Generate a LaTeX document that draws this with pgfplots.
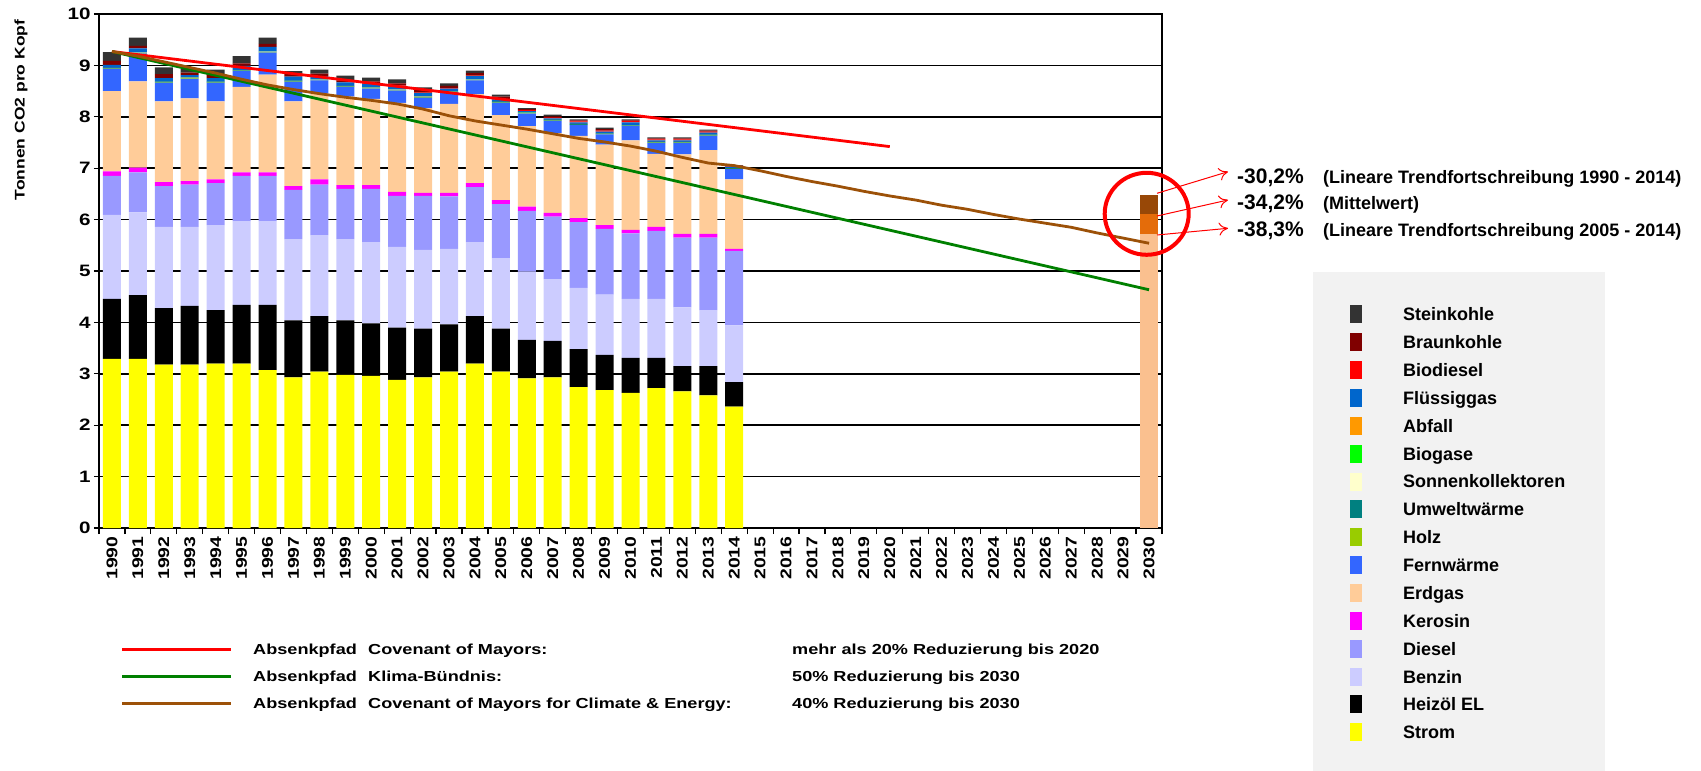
\documentclass[border=0pt]{standalone}
\usepackage{fontspec}
\setmainfont{Liberation Sans}
\newfontfamily\widefont[FakeStretch=1.25]{Liberation Sans}
\usepackage{pgfplots}
\pgfplotsset{compat=1.18}
\usepackage{pgfplotstable}
\usetikzlibrary{arrows.meta}

\definecolor{cStrom}{HTML}{FFFF00}
\definecolor{cHeiz}{HTML}{000000}
\definecolor{cBenz}{HTML}{CCCCFF}
\definecolor{cDies}{HTML}{9999FF}
\definecolor{cKero}{HTML}{FF00FF}
\definecolor{cErdg}{HTML}{FFCC99}
\definecolor{cFern}{HTML}{3366FF}
\definecolor{cHolz}{HTML}{99CC00}
\definecolor{cUmw}{HTML}{008080}
\definecolor{cSonn}{HTML}{FFFFCC}
\definecolor{cBiog}{HTML}{00FF00}
\definecolor{cAbf}{HTML}{FF9900}
\definecolor{cFlue}{HTML}{0066CC}
\definecolor{cBiod}{HTML}{FF0000}
\definecolor{cBraun}{HTML}{800000}
\definecolor{cStein}{HTML}{333333}
\definecolor{cPeach}{HTML}{FAC08F}
\definecolor{cOrange}{HTML}{E46C0A}
\definecolor{cBrownBar}{HTML}{984807}
\definecolor{cLineRed}{HTML}{FF0000}
\definecolor{cLineGreen}{HTML}{008000}
\definecolor{cLineBrown}{HTML}{9C5108}
\definecolor{cLegBg}{HTML}{F2F2F2}

% layer heights per year (index 0 = 1990)
\pgfplotstableread{
i  S    H    B    D    K    E    F    Ho    U    So    Bg    A     Fl   Bd   Br   St
0  3.29 1.17 1.63 0.76 0.09 1.56 0.43 0.005 0.01 0.002 0.002 0.001 0.06 0.00 0.08 0.17
1  3.29 1.24 1.61 0.78 0.09 1.68 0.54 0.005 0.01 0.002 0.002 0.001 0.08 0.00 0.05 0.16
2  3.18 1.10 1.58 0.79 0.08 1.57 0.36 0.005 0.01 0.002 0.002 0.001 0.07 0.00 0.08 0.13
3  3.18 1.14 1.54 0.82 0.07 1.61 0.38 0.005 0.01 0.002 0.002 0.001 0.05 0.00 0.05 0.07
4  3.20 1.04 1.65 0.82 0.07 1.52 0.36 0.005 0.01 0.002 0.002 0.001 0.07 0.00 0.06 0.11
5  3.20 1.14 1.63 0.88 0.07 1.66 0.31 0.005 0.01 0.002 0.002 0.001 0.08 0.00 0.05 0.14
6  3.07 1.27 1.63 0.88 0.07 1.90 0.43 0.005 0.01 0.002 0.002 0.001 0.09 0.00 0.06 0.12
7  2.93 1.11 1.58 0.96 0.07 1.65 0.38 0.005 0.01 0.002 0.002 0.001 0.08 0.00 0.06 0.05
8  3.04 1.08 1.58 0.98 0.10 1.67 0.26 0.005 0.01 0.002 0.002 0.001 0.06 0.00 0.05 0.08
9  2.98 1.06 1.58 0.98 0.07 1.72 0.19 0.005 0.01 0.002 0.002 0.001 0.07 0.00 0.04 0.09
10 2.96 1.02 1.58 1.04 0.07 1.68 0.20 0.005 0.01 0.002 0.002 0.001 0.07 0.01 0.04 0.07
11 2.88 1.02 1.57 0.99 0.08 1.73 0.24 0.005 0.01 0.002 0.002 0.001 0.07 0.01 0.04 0.08
12 2.93 0.95 1.53 1.05 0.06 1.65 0.20 0.005 0.01 0.002 0.002 0.001 0.07 0.01 0.05 0.05
13 3.04 0.92 1.47 1.02 0.07 1.73 0.23 0.005 0.01 0.002 0.002 0.001 0.05 0.01 0.04 0.05
14 3.20 0.92 1.44 1.07 0.08 1.73 0.27 0.005 0.01 0.002 0.002 0.001 0.06 0.01 0.05 0.05
15 3.04 0.84 1.37 1.05 0.08 1.65 0.24 0.005 0.01 0.002 0.002 0.001 0.05 0.01 0.04 0.04
16 2.91 0.75 1.33 1.18 0.08 1.57 0.24 0.005 0.01 0.002 0.002 0.001 0.03 0.02 0.02 0.02
17 2.93 0.71 1.20 1.22 0.07 1.55 0.24 0.005 0.01 0.002 0.002 0.001 0.03 0.02 0.02 0.03
18 2.74 0.74 1.19 1.28 0.08 1.60 0.21 0.005 0.01 0.002 0.002 0.001 0.03 0.02 0.02 0.02
19 2.68 0.69 1.17 1.28 0.07 1.57 0.20 0.005 0.01 0.002 0.002 0.001 0.03 0.02 0.03 0.03
20 2.63 0.68 1.15 1.27 0.07 1.74 0.28 0.005 0.01 0.002 0.002 0.001 0.05 0.03 0.01 0.02
21 2.72 0.59 1.15 1.32 0.08 1.42 0.21 0.005 0.01 0.002 0.002 0.001 0.03 0.02 0.02 0.02
22 2.66 0.49 1.14 1.36 0.07 1.55 0.22 0.005 0.01 0.002 0.002 0.001 0.03 0.02 0.02 0.02
23 2.58 0.57 1.09 1.41 0.07 1.63 0.28 0.005 0.01 0.002 0.002 0.001 0.04 0.02 0.02 0.02
24 2.36 0.48 1.10 1.45 0.04 1.35 0.20 0.005 0.01 0.002 0.002 0.001 0.03 0.01 0.01 0.01
}\co

\pgfplotsset{
  base/.style={
    at={(0,0)}, anchor=south west,
    scale only axis, width=1063bp, height=514bp,
    xmin=-0.5, xmax=40.5, ymin=0, ymax=10,
  },
}

\begin{document}
\begin{tikzpicture}[x=1bp,y=1bp]
\useasboundingbox (-99,-243) rectangle (1602,528);

\begin{axis}[base,
  ybar stacked, bar width=18bp,
  ytick={0,...,10},
  ymajorgrids, grid style={black, line width=1.5bp},
  xtick={0,...,40},
  xticklabel={\pgfmathparse{int(1990+\tick)}\pgfmathresult},
  minor xtick={-0.5,0.5,...,40.5},
  xtick pos=bottom, ytick pos=left,
  tick align=outside,
  major tick length=5bp, minor tick length=6bp,
  every major x tick/.append style={draw=none},
  tick style={black, line width=1.2bp},
  axis line style={black, line width=1.5bp},
  /pgf/number format/assume math mode=true,
  y tick label style={font=\widefont\bfseries\fontsize{16.5bp}{18bp}\selectfont},
  x tick label style={font=\widefont\bfseries\fontsize{15.5bp}{17bp}\selectfont, rotate=90, anchor=east},
]
\addplot[fill=cStrom, draw=none] table[x=i,y=S]{\co};
\addplot[fill=cHeiz,  draw=none] table[x=i,y=H]{\co};
\addplot[fill=cBenz,  draw=none] table[x=i,y=B]{\co};
\addplot[fill=cDies,  draw=none] table[x=i,y=D]{\co};
\addplot[fill=cKero,  draw=none] table[x=i,y=K]{\co};
\addplot[fill=cErdg,  draw=none] table[x=i,y=E]{\co};
\addplot[fill=cFern,  draw=none] table[x=i,y=F]{\co};
\addplot[fill=cHolz,  draw=none] table[x=i,y=Ho]{\co};
\addplot[fill=cUmw,   draw=none] table[x=i,y=U]{\co};
\addplot[fill=cSonn,  draw=none] table[x=i,y=So]{\co};
\addplot[fill=cBiog,  draw=none] table[x=i,y=Bg]{\co};
\addplot[fill=cAbf,   draw=none] table[x=i,y=A]{\co};
\addplot[fill=cFlue,  draw=none] table[x=i,y=Fl]{\co};
\addplot[fill=cBiod,  draw=none] table[x=i,y=Bd]{\co};
\addplot[fill=cBraun, draw=none] table[x=i,y=Br]{\co};
\addplot[fill=cStein, draw=none] table[x=i,y=St]{\co};
\end{axis}

\begin{axis}[base, hide axis]
% 2030 target bar (cumulative, drawn largest first)
\addplot[ybar, bar width=18bp, bar shift=0pt, fill=cBrownBar, draw=none] coordinates {(40,6.47)};
\addplot[ybar, bar width=18bp, bar shift=0pt, fill=cOrange, draw=none] coordinates {(40,6.10)};
\addplot[ybar, bar width=18bp, bar shift=0pt, fill=cPeach, draw=none] coordinates {(40,5.72)};
% reduction paths
\addplot[cLineRed, line width=2.8bp] coordinates {(0,9.27) (30,7.42)};
\addplot[cLineGreen, line width=2.8bp] coordinates {(0,9.27) (40,4.635)};
\addplot[cLineBrown, line width=2.8bp] coordinates {
  (0,9.27) (1,9.18) (2,9.07) (3,8.96) (4,8.85) (5,8.73) (6,8.62) (7,8.53)
  (8,8.45) (9,8.38) (10,8.32) (11,8.25) (12,8.15) (13,8.02) (14,7.92)
  (15,7.84) (16,7.76) (17,7.67) (18,7.58) (19,7.51) (20,7.43) (21,7.33)
  (22,7.21) (23,7.10) (24,7.05) (25,6.95) (26,6.84) (27,6.74) (28,6.65)
  (29,6.55) (30,6.46) (31,6.38) (32,6.28) (33,6.20) (34,6.10) (35,6.01)
  (36,5.93) (37,5.85) (38,5.74) (39,5.64) (40,5.54)};
\end{axis}

% y label
\node[rotate=90, font=\widefont\bfseries\fontsize{14bp}{15bp}\selectfont] at (-78,418) {Tonnen CO2 pro Kopf};

% circle and arrows
\draw[red, line width=4bp] (1047.7,314.2) ellipse (42 and 41);
\draw[red, line width=1bp, -{To[length=9bp,width=13bp]}] (1058,334.7) -- (1129,356.3);
\draw[red, line width=1bp, -{To[length=9bp,width=13bp]}] (1058,312) -- (1129,328);
\draw[red, line width=1bp, -{To[length=9bp,width=13bp]}] (1058,293) -- (1129,299.7);

\begin{scope}[every node/.style={anchor=base west, inner sep=0pt}]
\node[font=\bfseries\fontsize{21bp}{23bp}\selectfont] at (1138,344.7) {-30,2\%};
\node[font=\bfseries\fontsize{21bp}{23bp}\selectfont] at (1138,318) {-34,2\%};
\node[font=\bfseries\fontsize{21bp}{23bp}\selectfont] at (1138,291.3) {-38,3\%};
\node[font=\bfseries\fontsize{18bp}{20bp}\selectfont] at (1224,344.7) {(Lineare Trendfortschreibung 1990 - 2014)};
\node[font=\bfseries\fontsize{18bp}{20bp}\selectfont] at (1224,318) {(Mittelwert)};
\node[font=\bfseries\fontsize{18bp}{20bp}\selectfont] at (1224,291.3) {(Lineare Trendfortschreibung 2005 - 2014)};
\end{scope}

% right legend
\fill[cLegBg] (1214,256) rectangle (1506,-243);
\foreach \n/\c [count=\k from 0] in {Steinkohle/cStein, Braunkohle/cBraun, Biodiesel/cBiod,
  Flüssiggas/cFlue, Abfall/cAbf, Biogase/cBiog, Sonnenkollektoren/cSonn, Umweltwärme/cUmw,
  Holz/cHolz, Fernwärme/cFern, Erdgas/cErdg, Kerosin/cKero, Diesel/cDies, Benzin/cBenz,
  Heizöl EL/cHeiz, Strom/cStrom} {
  \fill[\c] (1251,{213.7-27.87*\k-9}) rectangle ++(12,18);
  \node[anchor=base west, inner sep=0pt, font=\bfseries\fontsize{18bp}{20bp}\selectfont]
    at (1304,{213.7-27.87*\k-6.4}) {\n};
}

% bottom legend for the paths
\draw[cLineRed, line width=3bp] (23,-121) -- (132,-121);
\draw[cLineGreen, line width=3bp] (23,-148) -- (132,-148);
\draw[cLineBrown, line width=3bp] (23,-175) -- (132,-175);
\begin{scope}[every node/.style={anchor=base west, inner sep=0pt, font=\widefont\bfseries\fontsize{14.5bp}{16bp}\selectfont}]
\node at (154,-126.2) {Absenkpfad};
\node at (269,-126.2) {Covenant of Mayors:};
\node at (693,-126.2) {mehr als 20\% Reduzierung bis 2020};
\node at (154,-153.2) {Absenkpfad};
\node at (269,-153.2) {Klima-Bündnis:};
\node at (693,-153.2) {50\% Reduzierung bis 2030};
\node at (154,-180.2) {Absenkpfad};
\node at (269,-180.2) {Covenant of Mayors for Climate \& Energy:};
\node at (693,-180.2) {40\% Reduzierung bis 2030};
\end{scope}
\end{tikzpicture}
\end{document}
